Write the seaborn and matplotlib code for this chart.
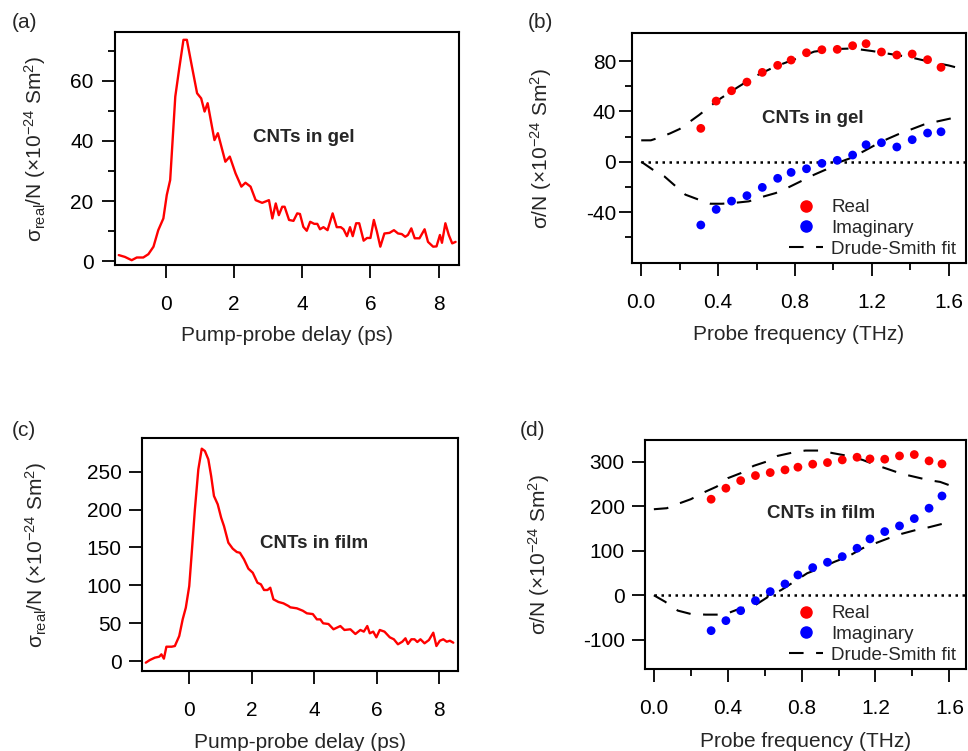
import matplotlib
matplotlib.use("Agg")
import matplotlib.pyplot as plt
from matplotlib.lines import Line2D
from matplotlib.ticker import MultipleLocator, FixedLocator
import seaborn as sns
import pandas as pd

# (a) CNTs in gel, transient real conductivity vs delay
gel_delay = [-1.39, -1.21, -1.01, -0.86, -0.67, -0.52, -0.37, -0.23, -0.08, 0.02, 0.12, 0.27,
             0.38, 0.51, 0.61, 0.74, 0.91, 1.03, 1.13, 1.22, 1.42, 1.52, 1.74, 1.87, 2.04, 2.21,
             2.33, 2.48, 2.63, 2.82, 3.02, 3.12, 3.22, 3.31, 3.41, 3.48, 3.61, 3.74, 3.85, 3.93,
             4.03, 4.13, 4.23, 4.35, 4.44, 4.52, 4.62, 4.74, 4.89, 5.01, 5.13, 5.21, 5.31, 5.40,
             5.48, 5.58, 5.67, 5.80, 5.90, 6.00, 6.10, 6.19, 6.29, 6.41, 6.56, 6.69, 6.81, 6.92,
             7.02, 7.10, 7.20, 7.30, 7.44, 7.59, 7.69, 7.84, 7.94, 8.04, 8.10, 8.20, 8.30, 8.40, 8.50]
gel_sigma = [2.0, 1.4, 0.3, 1.2, 1.2, 2.3, 4.8, 10.3, 14.2, 22.0, 27.0, 54.8,
             63.7, 73.7, 73.7, 65.9, 55.9, 54.2, 49.8, 52.6, 40.3, 42.6, 33.1, 34.8, 29.2, 24.8,
             26.1, 24.8, 20.3, 19.4, 20.3, 14.2, 19.2, 15.3, 18.1, 18.1, 13.7, 13.4, 15.9, 15.7,
             11.4, 10.1, 13.1, 12.4, 12.4, 10.6, 11.3, 10.3, 15.9, 11.3, 11.3, 10.6, 8.3, 11.3,
             8.3, 12.6, 12.6, 6.8, 7.7, 7.7, 13.7, 9.8, 4.8, 9.2, 9.4, 10.3, 9.2, 9.0,
             8.1, 8.7, 10.9, 7.6, 7.6, 10.6, 6.4, 4.8, 4.9, 8.7, 6.1, 12.6, 8.7, 5.9, 6.4]

# (c) CNTs in film
film_delay = [-1.38, -1.25, -1.09, -0.95, -0.88, -0.80, -0.72, -0.55, -0.45, -0.31, -0.20, -0.10,
              0.01, 0.09, 0.19, 0.30, 0.41, 0.51, 0.62, 0.71, 0.80, 0.92, 1.03, 1.12, 1.26, 1.40,
              1.53, 1.63, 1.76, 1.90, 2.04, 2.19, 2.30, 2.40, 2.51, 2.60, 2.70, 2.86, 3.02, 3.18,
              3.24, 3.45, 3.64, 3.77, 3.96, 4.09, 4.20, 4.29, 4.46, 4.62, 4.84, 4.97, 5.16, 5.32,
              5.48, 5.59, 5.70, 5.78, 5.89, 5.99, 6.10, 6.25, 6.42, 6.55, 6.68, 6.82, 6.92, 7.00,
              7.11, 7.21, 7.30, 7.40, 7.53, 7.67, 7.81, 7.91, 8.02, 8.13, 8.24, 8.34, 8.45]
film_sigma = [-2.2, 1.3, 4.4, 5.7, 8.8, 3.1, 18.9, 18.9, 19.8, 33.0, 55.0, 70.4,
              99.0, 143.0, 200.0, 253.0, 280.5, 277.4, 266.4, 244.4, 218.0, 207.0, 189.3, 178.3, 156.3, 148.4,
              144.0, 143.0, 134.3, 122.0, 116.6, 103.4, 101.3, 93.8, 93.8, 96.8, 81.5, 78.0, 76.2, 72.7,
              70.9, 69.6, 66.4, 63.0, 62.0, 55.0, 55.0, 49.8, 48.9, 41.9, 46.2, 41.0, 41.9, 35.7,
              41.0, 38.8, 46.2, 36.6, 38.8, 31.3, 41.0, 38.8, 31.3, 28.7, 22.1, 25.5, 30.0, 22.5,
              28.7, 28.7, 25.1, 28.7, 23.4, 27.7, 37.4, 19.8, 26.8, 28.7, 25.5, 26.8, 24.2]

# (b) / (d) spectra
freq = [0.31, 0.39, 0.47, 0.55, 0.63, 0.71, 0.78, 0.86, 0.94, 1.02, 1.10, 1.17, 1.25, 1.33, 1.41, 1.49, 1.56]
gel_real = [26.5, 48.2, 56.4, 63.3, 71.0, 76.6, 80.8, 86.6, 89.0, 89.3, 92.2, 93.8, 87.2, 84.8, 85.6, 81.1, 75.0]
gel_imag = [-50.3, -37.9, -31.3, -27.0, -20.4, -13.2, -8.5, -5.6, -1.3, 1.1, 5.3, 13.5, 15.1, 11.7, 17.5, 22.8, 23.8]
film_real = [215.7, 240.4, 257.5, 268.8, 275.5, 281.6, 287.6, 294.4, 298.0, 304.0, 310.0, 306.3, 305.6, 313.0, 316.0, 301.8, 295.0]
film_imag = [-79.5, -57.0, -34.6, -12.1, 8.2, 25.4, 45.6, 62.1, 74.1, 86.8, 105.6, 126.6, 143.0, 155.8, 172.2, 195.5, 223.0]

# Drude-Smith fits
gel_fit_re_f = [0.0, 0.05, 0.1, 0.15, 0.2, 0.25, 0.3, 0.35, 0.4, 0.5, 0.6, 0.7, 0.8, 0.9, 1.0, 1.1,
                1.2, 1.3, 1.4, 1.5, 1.6, 1.65]
gel_fit_re = [17.0, 17.0, 19.5, 22.5, 26.0, 31.5, 37.0, 43.0, 49.0, 59.0, 68.5, 75.8, 81.5, 87.5, 89.5, 90.0,
              88.0, 85.5, 83.0, 79.5, 76.5, 74.5]
gel_fit_im_f = [0.0, 0.06, 0.12, 0.18, 0.23, 0.30, 0.36, 0.42, 0.48, 0.56, 0.64, 0.70, 0.77, 0.83, 0.90,
                0.96, 1.02, 1.09, 1.16, 1.22, 1.28, 1.34, 1.41, 1.47, 1.54, 1.62]
gel_fit_im = [0.0, -6.3, -11.6, -19.6, -26.2, -30.2, -33.4, -33.4, -32.8, -31.5, -27.5, -24.9, -20.1, -15.6, -10.3,
              -6.3, -1.0, 2.9, 8.5, 13.5, 18.0, 22.0, 26.0, 29.5, 32.0, 34.7]
film_fit_re_f = [0.0, 0.07, 0.14, 0.20, 0.28, 0.34, 0.40, 0.47, 0.54, 0.61, 0.67, 0.75, 0.82, 0.90, 0.97,
                 1.05, 1.13, 1.20, 1.27, 1.34, 1.42, 1.49, 1.55, 1.61]
film_fit_re = [193.2, 195.5, 206.7, 215.7, 232.8, 244.0, 262.9, 274.2, 290.6, 300.2, 313.0, 320.4, 325.0, 325.0, 319.1,
               313.0, 304.0, 292.8, 283.0, 273.0, 265.2, 258.4, 254.6, 245.6]
film_fit_im_f = [0.0, 0.06, 0.13, 0.20, 0.28, 0.35, 0.40, 0.47, 0.55, 0.62, 0.69, 0.76, 0.83, 0.90, 0.98,
                 1.05, 1.13, 1.20, 1.27, 1.34, 1.42, 1.49, 1.56]
film_fit_im = [0.0, -14.3, -34.5, -42.0, -43.5, -43.5, -40.4, -29.3, -21.8, -3.1, 11.9, 30.6, 49.4, 60.7, 75.5,
               86.7, 105.6, 116.9, 128.0, 137.8, 146.7, 152.8, 160.2]

# ticks
gel_spec_major = [-40, 0, 40, 80]
gel_spec_minor = [-60, -20, 20, 60]
film_spec_major = [-100, 0, 100, 200, 300]

sns.set_theme(style="ticks")
plt.rcParams["font.family"] = ["Liberation Sans", "DejaVu Sans"]
plt.rcParams["mathtext.default"] = "regular"
plt.rcParams["axes.unicode_minus"] = False
plt.rcParams["axes.linewidth"] = 1.5

RED = "#ff0000"
BLUE = "#0000ff"
W, H = 968, 751
FS = 15


def box(left, top, right, bottom):
    return [left / W, 1 - bottom / H, (right - left) / W, (bottom - top) / H]


def estilo(ax, ypad):
    for s in ax.spines.values():
        s.set_color("black")
        s.set_linewidth(1.5)
    ax.tick_params(axis="both", which="major", direction="out", length=9.5, width=1.3,
                   labelsize=FS, colors="black")
    ax.tick_params(axis="both", which="minor", direction="out", length=5, width=1.3, colors="black")
    ax.tick_params(axis="x", which="major", pad=12)
    ax.tick_params(axis="y", which="major", pad=ypad)
    ax.set_xlabel("")
    ax.set_ylabel("")


fig = plt.figure(figsize=(W / 100, H / 100), dpi=100)

ylab_real = "σ$_{real}$/N (×10$^{-24}$ Sm$^{2}$)"
ylab_tot = "σ/N (×10$^{-24}$ Sm$^{2}$)"


def panel_transitorio(rect, delay, sigma, ylim, ymaj, ymin, texto, txy, ylab_x, xlab_y, ypad):
    ax = fig.add_axes(rect)
    df = pd.DataFrame({"delay": delay, "sigma": sigma})
    sns.lineplot(data=df, x="delay", y="sigma", ax=ax, color=RED, linewidth=1.7,
                 estimator=None, sort=False)
    ax.set_xlim(-1.5, 8.6)
    ax.set_ylim(*ylim)
    ax.xaxis.set_major_locator(MultipleLocator(2))
    ax.yaxis.set_major_locator(MultipleLocator(ymaj))
    if ymin:
        ax.yaxis.set_minor_locator(MultipleLocator(ymin))
    estilo(ax, ypad)
    ax.set_xlabel("Pump-probe delay (ps)", fontsize=FS)
    ax.xaxis.set_label_coords(0.5, xlab_y)
    ax.set_ylabel(ylab_real, fontsize=FS)
    ax.yaxis.set_label_coords(ylab_x, 0.5)
    ax.text(txy[0], txy[1], texto, fontsize=13.5, fontweight="bold", va="center", ha="left")
    return ax


def panel_espectro(rect, real, imag, fre_f, fre, fim_f, fim, ylim, ymaj, ymin, texto, txy,
                   ylab_x, xlab_y, ypad):
    ax = fig.add_axes(rect)
    ax.hlines(0, 0, 1.7, colors="black", linewidth=1.8, linestyles=(0, (1, 1.8)))
    fits = pd.DataFrame({"f": fre_f + fim_f, "v": fre + fim,
                         "part": ["re"] * len(fre_f) + ["im"] * len(fim_f)})
    sns.lineplot(data=fits, x="f", y="v", units="part", estimator=None, ax=ax,
                 color="black", linewidth=1.5, dashes=False, sort=False)
    for ln in ax.get_lines():
        ln.set_dashes((7, 6))
    pts = pd.DataFrame({"f": freq + freq, "v": real + imag,
                        "serie": ["Real"] * len(freq) + ["Imaginary"] * len(freq)})
    sns.scatterplot(data=pts, x="f", y="v", hue="serie", palette={"Real": RED, "Imaginary": BLUE},
                    s=40, linewidth=0, ax=ax, legend=False, zorder=3)
    ax.set_xlim(-0.048, 1.69)
    ax.set_ylim(*ylim)
    ax.xaxis.set_major_locator(MultipleLocator(0.4))
    ax.xaxis.set_minor_locator(MultipleLocator(0.2))
    ax.xaxis.set_major_formatter(plt.FuncFormatter(lambda v, p: f"{v:.1f}"))
    ax.yaxis.set_major_locator(FixedLocator(ymaj))
    ax.yaxis.set_minor_locator(FixedLocator(ymin))
    estilo(ax, ypad)
    ax.set_xlabel("Probe frequency (THz)", fontsize=FS)
    ax.xaxis.set_label_coords(0.5, xlab_y)
    ax.set_ylabel(ylab_tot, fontsize=FS)
    ax.yaxis.set_label_coords(ylab_x, 0.5)
    ax.text(txy[0], txy[1], texto, fontsize=13.5, fontweight="bold", va="center", ha="left")
    handles = [
        Line2D([], [], marker="o", linestyle="none", color=RED, markersize=8),
        Line2D([], [], marker="o", linestyle="none", color=BLUE, markersize=8),
        Line2D([], [], color="black", linewidth=1.5, dashes=(7, 6)),
    ]
    ax.legend(handles, ["Real", "Imaginary", "Drude-Smith fit"], loc="lower right",
              bbox_to_anchor=(1.01, -0.035), frameon=False, fontsize=13.5, handlelength=1.8,
              handletextpad=0.45, labelspacing=0.2, borderaxespad=0.3)
    return ax


panel_transitorio(box(115, 32, 459, 265), gel_delay, gel_sigma, (-1.3, 76.3), 20, 10,
                  "CNTs in gel", (2.54, 41.3), -0.195, -0.262, 6)
panel_espectro(box(632, 33, 966, 263), gel_real, gel_imag, gel_fit_re_f, gel_fit_re,
               gel_fit_im_f, gel_fit_im, (-80.5, 102.3), gel_spec_major, gel_spec_minor,
               "CNTs in gel", (0.626, 34.7), -0.235, -0.27, 2)
panel_transitorio(box(142, 438, 458, 671), film_delay, film_sigma, (-13.2, 294.6), 50, None,
                  "CNTs in film", (2.28, 155.5), -0.295, -0.265, 5)
panel_espectro(box(645, 440, 966, 669), film_real, film_imag, film_fit_re_f, film_fit_re,
               film_fit_im_f, film_fit_im, (-165.6, 348.7), film_spec_major, [],
               "CNTs in film", (0.613, 184), -0.29, -0.275, 5)

for letra, (px, py) in {"(a)": (12, 23), "(b)": (528, 23), "(c)": (12, 430), "(d)": (520, 430)}.items():
    fig.text(px / W, 1 - py / H, letra, fontsize=FS, ha="left", va="center")

fig.savefig("out.png", dpi=100)
